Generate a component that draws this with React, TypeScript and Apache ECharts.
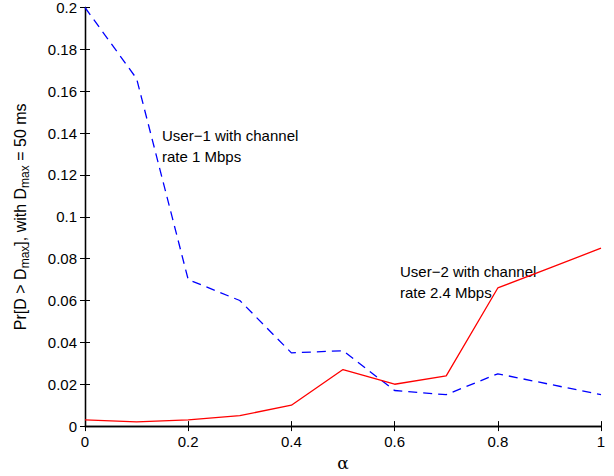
import React, { useEffect, useRef } from "react";
import * as echarts from "echarts";

const alphas = [0, 0.1, 0.2, 0.3, 0.4, 0.5, 0.6, 0.7, 0.8, 0.9, 1.0];
const user1 = [0.2, 0.166, 0.07, 0.06, 0.035, 0.036, 0.017, 0.015, 0.025, 0.02, 0.015];
const user2 = [0.003, 0.002, 0.003, 0.005, 0.01, 0.027, 0.02, 0.024, 0.066, 0.0755, 0.085];
const label1 = ["User\u22121 with channel", "rate 1 Mbps"];
const label2 = ["User\u22122 with channel", "rate 2.4 Mbps"];

const FONT = "Liberation Sans, Arial, Helvetica, sans-serif";

export default function App() {
  const ref = useRef<HTMLDivElement>(null);
  useEffect(() => {
    if (!ref.current) return;
    const chart = echarts.init(ref.current, null, { renderer: "svg" });
    const fmt = (v: number) => String(parseFloat(v.toFixed(2)));
    const axisLine = { show: true, lineStyle: { color: "#000", width: 1.3 } };
    const tick = { show: true, inside: true, length: 5, lineStyle: { color: "#000", width: 1 } };
    const lab = { color: "#000", fontSize: 15, fontFamily: FONT };
    chart.setOption({
      animation: false,
      backgroundColor: "#fff",
      grid: { left: 82, right: 13, top: 7, bottom: 43 },
      xAxis: [
        {
          type: "value", min: 0, max: 1, interval: 0.2,
          axisLine, axisTick: tick, splitLine: { show: false },
          axisLabel: { ...lab, margin: 8, formatter: fmt },
          name: "\u03b1", nameLocation: "middle", nameGap: 25,
          nameTextStyle: { color: "#000", fontSize: 17, fontFamily: "DejaVu Serif, serif" },
        },
        {
          type: "value", min: 0, max: 1, interval: 0.2, position: "top",
          axisLine, axisTick: tick, splitLine: { show: false }, axisLabel: { show: false },
        },
      ],
      yAxis: [
        {
          type: "value", min: 0, max: 0.2, interval: 0.02,
          axisLine, axisTick: tick, splitLine: { show: false },
          axisLabel: { ...lab, margin: 8, formatter: fmt },
          name: "Pr[D > D{sub|max}], with D{sub|max} = 50 ms",
          nameLocation: "middle", nameGap: 54, nameRotate: 90,
          nameTextStyle: {
            color: "#000", fontSize: 16, fontFamily: FONT, lineHeight: 22,
            rich: {
              sub: { fontSize: 12, fontFamily: FONT, color: "#000", verticalAlign: "bottom", lineHeight: 22, padding: [11, 0, 0, 0] },
            },
          },
        },
        {
          type: "value", min: 0, max: 0.2, interval: 0.02, position: "right",
          axisLine, axisTick: tick, splitLine: { show: false }, axisLabel: { show: false },
        },
      ],
      series: [
        {
          type: "line", name: "User-1",
          data: alphas.map((a, i) => [a, user1[i]]),
          showSymbol: false, symbol: "none",
          lineStyle: { color: "#0000ff", width: 1.3, type: [9, 6] },
        },
        {
          type: "line", name: "User-2",
          data: alphas.map((a, i) => [a, user2[i]]),
          showSymbol: false, symbol: "none",
          lineStyle: { color: "#ff0000", width: 1.3 },
        },
      ],
      graphic: [
        {
          type: "text", left: 162, top: 125,
          style: { text: label1.join("\n"), fontSize: 15, lineHeight: 21, fontFamily: FONT, fill: "#000" },
        },
        {
          type: "text", left: 400, top: 261,
          style: { text: label2.join("\n"), fontSize: 15, lineHeight: 21, fontFamily: FONT, fill: "#000" },
        },
      ],
    });
    return () => chart.dispose();
  }, []);
  return (
    <div
      ref={ref}
      style={{ position: "fixed", left: 0, top: 0, width: 614, height: 476, background: "#fff" }}
    />
  );
}
